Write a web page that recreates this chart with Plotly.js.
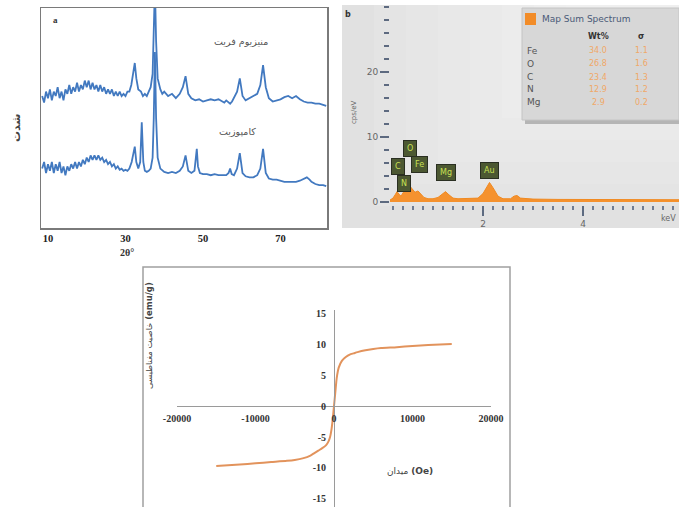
<!DOCTYPE html>
<html><head><meta charset="utf-8">
<script src="https://cdn.plot.ly/plotly-3.0.1.min.js"></script>
<style>html,body{margin:0;padding:0;background:#fff}#chart{width:679px;height:507px}</style>
</head><body><div id="chart"></div>
<script>
// ---------- Panel a: XRD ----------
const ferriteX = [8.5,9,9.5,10,10.5,11,11.5,12,12.5,13,13.5,14,14.5,15,15.5,16,16.5,17,17.5,18,18.5,19,19.5,20,20.5,21,21.5,22,22.5,23,23.5,24,24.5,25,25.5,26,26.5,27,27.5,28,28.5,29,29.5,30,30.5,31,31.5,32,32.4,32.8,33.3,34,34.5,35,35.5,36,36.5,37,37.3,37.6,37.9,38.3,39,39.5,40,41,42,43,44,44.8,45.5,46.2,47,48,49,50,51,52,53,54,55,55.5,56,57,57.5,58,58.8,59.5,60.2,61,62,63,64,64.8,65.5,66.2,67,68,69,70,71,72,73,74,75,76,77,78,79,80,81,81.8];
const ferriteY = [60,57,62,59,63,58,62,60,64,59,62,58,63,61,65,61,64,62,66,62,65,63,67,64,67,63,66,63,65,62,65,62,64,61,63,61,63,60,62,60,62,60,61,60,62,62,65,70,75,68,63,62,60,61,60,62,64,70,85,110,85,68,63,61,62,60,61,59,61,64,69,61,59,58,58.5,57.5,58,58.5,58,58.5,57.5,57,58,56.5,57.5,59,62,68,60,58,59,60,61,65,74,64,59,57.5,58,58.5,59.5,60,59,60,58.5,57.5,57,57,56.5,56.5,56,55.5];
const compositeX = [8.5,9,9.5,10,10.5,11,11.5,12,12.5,13,13.5,14,14.5,15,15.5,16,16.5,17,17.5,18,18.5,19,19.5,20,20.5,21,21.5,22,22.5,23,23.5,24,24.5,25,25.5,26,26.5,27,27.5,28,28.5,29,29.5,30,30.5,31,31.6,32.1,32.4,32.8,33.3,33.8,34.2,34.6,35,35.5,36,36.5,37,37.3,37.6,37.9,38.3,39,39.5,40,41,42,43,44,44.8,45.5,46.2,47,47.8,48.1,48.4,48.7,49.2,50,51,52,53,54,55,56,56.6,57,57.4,58,58.8,59.5,60.2,61,62,63,64,64.8,65.5,66.2,67,68,69,70,71,72,73,74,75,76,76.8,77.5,78,79,80,81,81.8];
const compositeY = [27,30,25,29,26,30,25,29,26,30,25,28,24,28,26,29,27,30,27,30,28,31,29,32,30,33,31,33,31,33,31,32,30,31,29,30,28,29,27,28,26.5,27,26,26.5,26,27,30,34,37,30,27,30,48,30,26,25.5,26,27,32,50,80,50,32,27,26,25.5,25,25.5,25,26,28,33,26,25,26,30,36,28,25,24.5,24.5,24,24.5,24,24,24,25,27,24.5,24,27,34,25,23.5,23,23,24,27,36,25,22.5,22,22,21.5,21,21,21,21,21.5,22.5,23,22,21,20,19.5,19.5,19];
const xrdTicks = [10,30,50,70];

// ---------- Panel b: EDS ----------
const energyKeV = [0.14,0.2,0.25,0.28,0.32,0.36,0.4,0.45,0.52,0.58,0.64,0.7,0.76,0.82,0.9,1.0,1.1,1.18,1.25,1.32,1.4,1.5,1.7,1.9,2.0,2.08,2.13,2.2,2.3,2.4,2.55,2.62,2.68,2.75,2.85,3.0,3.5,4.0,4.5,5.0,5.5,5.92];
const countsCps = [0.3,0.6,1.2,1.6,1.2,0.9,1.4,2.0,2.6,2.0,1.5,1.7,1.2,0.7,0.5,0.5,0.7,1.2,1.6,1.1,0.6,0.5,0.5,0.6,1.3,2.4,3.0,2.2,0.9,0.5,0.5,0.9,1.0,0.6,0.5,0.45,0.4,0.4,0.4,0.35,0.35,0.35];
const peakLabels = ['C','O','Fe','N','Mg','Au'];
const peakLabelX = [0.30,0.54,0.74,0.42,1.26,2.14];
const peakLabelY = [5.5,8.2,5.7,2.8,4.5,4.8];
const tableElements = ['Fe','O','C','N','Mg'];
const tableWt = ['34.0','26.8','23.4','12.9','2.9'];
const tableSigma = ['1.1','1.6','1.3','1.2','0.2'];

// ---------- Panel c: VSM ----------
const fieldOe = [-15000,-12000,-10000,-8000,-6000,-5000,-4000,-3000,-2500,-2000,-1500,-1000,-700,-500,-300,-150,0,150,300,400,600,1000,1500,2000,2500,3000,4000,5000,6000,8000,10000,12000,15000];
const magnetization = [-9.7,-9.45,-9.25,-9.05,-8.85,-8.7,-8.45,-8.0,-7.6,-7.2,-6.8,-6.3,-5.7,-5.0,-3.6,-2.0,0,2.0,4.0,5.0,6.2,7.3,7.9,8.3,8.5,8.7,9.0,9.2,9.35,9.5,9.7,9.85,10.0];
const vsmTicksX = [-20000,-10000,0,10000,20000];
const vsmTicksY = [-15,-10,-5,0,5,10,15];

const W = 679, H = 507;
const px = v => v / W, py = v => 1 - v / H;
const serifBold = {family:'Liberation Serif', size:11, color:'#222', weight:'bold'};
const fa = 'DejaVu Sans';

function ann(text, x, y, font, extra) {
  return Object.assign({text, xref:'paper', yref:'paper', x:px(x), y:py(y), showarrow:false,
    xanchor:'center', yanchor:'middle', font}, extra || {});
}

const traces = [
  {x: ferriteX, y: ferriteY, xaxis:'x', yaxis:'y', type:'scatter', mode:'lines',
   line:{color:'#4279c0', width:1.8}, hoverinfo:'skip'},
  {x: compositeX, y: compositeY, xaxis:'x', yaxis:'y', type:'scatter', mode:'lines',
   line:{color:'#4279c0', width:1.8}, hoverinfo:'skip'},
  {x: energyKeV, y: countsCps, xaxis:'x2', yaxis:'y2', type:'scatter', mode:'lines',
   fill:'tozeroy', fillcolor:'#f5922f', line:{color:'#f08a22', width:1}, hoverinfo:'skip'},
  {x: fieldOe, y: magnetization, xaxis:'x3', yaxis:'y3', type:'scatter', mode:'lines',
   line:{color:'#e2935c', width:2, shape:'spline', smoothing:0.6}, hoverinfo:'skip'}
];

const annotations = [
  ann('<b>a</b>', 55, 20, {family:'Liberation Serif', size:9, color:'#333'}),
  ann('منیزیوم فریت', 241, 42, {family:fa, size:9.5, color:'#555'}),
  ann('کامپوزیت', 237, 131, {family:fa, size:9.5, color:'#555'}),
  ann('<b>شدت</b>', 17, 128, {family:fa, size:11, color:'#444'}, {textangle:-90}),
  ann('<b>2θ°</b>', 127, 252, {family:'Liberation Serif', size:10, color:'#333'}),
  ann('<b>b</b>', 348, 14, {family:'DejaVu Sans', size:8, color:'#333'}),
  ann('cps/eV', 354, 112, {family:'DejaVu Sans', size:7, color:'#666'}, {textangle:-90}),
  ann('keV', 678, 218, {family:'DejaVu Sans', size:8, color:'#666'}, {xanchor:'right'}),
  ann('Map Sum Spectrum', 540, 19, {family:'DejaVu Sans', size:9, color:'#4a5a78'}, {xanchor:'left'}),
  ann('<b>Wt%</b>', 598, 36, {family:'DejaVu Sans', size:8, color:'#333'}),
  ann('<b>σ</b>', 641, 36, {family:'DejaVu Sans', size:8, color:'#333'}),
  ann('میدان <b>(Oe)</b>', 410, 471, {family:fa, size:9, color:'#444'}),
  ann('خاصیت مغناطیسی <b>(emu/g)</b>', 149, 336, {family:fa, size:8.5, color:'#444'}, {textangle:-90})
];
const rowY = [51, 64, 77, 89, 102];
tableElements.forEach((el, i) => {
  annotations.push(ann(el, 525, rowY[i], {family:'DejaVu Sans', size:9, color:'#555'}, {xanchor:'left'}));
  annotations.push(ann(tableWt[i], 598, rowY[i], {family:'DejaVu Sans', size:8, color:'#f0a868'}));
  annotations.push(ann(tableSigma[i], 641, rowY[i], {family:'DejaVu Sans', size:8, color:'#f0a868'}));
});
peakLabels.forEach((lb, i) => {
  annotations.push({text: lb, xref:'x2', yref:'y2', x: peakLabelX[i], y: peakLabelY[i], showarrow:false,
    bgcolor:'#4c5832', bordercolor:'#2a2f22', borderwidth:1, borderpad:3,
    font:{family:'DejaVu Sans', size:8, color:'#c9e052'}});
});

const shapes = [
  {type:'rect', xref:'paper', yref:'paper', x0:px(342), x1:1, y0:py(228), y1:py(5), fillcolor:'#dedede', line:{width:0}, layer:'below'}
];
for (let i = 0; i < 8; i++) {
  shapes.push({type:'rect', xref:'paper', yref:'paper', x0:px(342 + i * 32), x1:1, y0:py(228 - i * 22), y1:py(5),
    fillcolor:'#ffffff', opacity:0.1, line:{width:0}, layer:'below'});
}
shapes.push(
  {type:'rect', xref:'paper', yref:'paper', x0:px(525), x1:1, y0:py(124), y1:py(11), fillcolor:'#b5b5b5', line:{width:0}, layer:'below'},
  {type:'rect', xref:'paper', yref:'paper', x0:px(522), x1:1, y0:py(120), y1:py(8), fillcolor:'#d7d7d7', line:{color:'#c4c4c4', width:1}, layer:'below'},
  {type:'rect', xref:'paper', yref:'paper', x0:px(525), x1:px(536), y0:py(25), y1:py(13), fillcolor:'#f28c28', line:{width:0}},
  {type:'rect', xref:'paper', yref:'paper', x0:px(143), x1:px(510), y0:py(510), y1:py(267), line:{color:'#a0a0a0', width:1.5}, layer:'below'}
);

const layout = {
  width: W, height: H, margin:{l:0, r:0, t:0, b:0}, showlegend:false,
  paper_bgcolor:'#fff', plot_bgcolor:'rgba(0,0,0,0)',
  xaxis:{domain:[px(41), px(327)], range:[8.2, 82], anchor:'y', tickvals:xrdTicks, ticktext:xrdTicks.map(String),
    showline:true, mirror:true, linecolor:'#7a7a7a', linewidth:1.5, ticks:'', showgrid:false, zeroline:false,
    tickfont:{family:'Liberation Serif', size:10.5, color:'#222', weight:'bold'}, ticklabelstandoff:0},
  yaxis:{domain:[py(228), py(8)], range:[0, 100], anchor:'x', showticklabels:false,
    showline:true, mirror:true, linecolor:'#7a7a7a', linewidth:1.5, ticks:'', showgrid:false, zeroline:false},
  xaxis2:{domain:[px(390), 1], range:[0.14, 5.92], anchor:'y2', tickvals:[2,4], ticktext:['2','4'],
    ticks:'outside', ticklen:10, tickcolor:'#5d6a80', tickwidth:1.2,
    minor:{dtick:0.2, tick0:0, ticks:'outside', ticklen:4, tickcolor:'#6f7c94', tickwidth:1.2},
    showline:false, showgrid:false, zeroline:false, tickfont:{family:'DejaVu Sans', size:9, color:'#666'}},
  yaxis2:{domain:[py(205), py(5)], range:[-0.46, 30.3], anchor:'x2', tickvals:[0,10,20], ticktext:['0','10','20'],
    ticks:'outside', ticklen:9, tickcolor:'#5d6a80', tickwidth:1.2,
    minor:{dtick:2, tick0:0, ticks:'outside', ticklen:5, tickcolor:'#5d6a80', tickwidth:1.2},
    showline:false, showgrid:false, zeroline:false, tickfont:{family:'DejaVu Sans', size:9, color:'#666'}},
  xaxis3:{domain:[px(177), px(491)], range:[-20000, 20000], anchor:'free', position:(507-406)/507,
    tickvals:vsmTicksX, ticktext:vsmTicksX.map(String), showline:true, linecolor:'#9a9a9a', linewidth:1,
    ticks:'', showgrid:false, zeroline:false, tickfont:{family:'Liberation Serif', size:10, color:'#333', weight:'bold'},
    ticklabelstandoff:3},
  yaxis3:{domain:[0, py(310)], range:[-16.3, 15.5], anchor:'free', position:px(334),
    tickvals:vsmTicksY, ticktext:vsmTicksY.map(String), showline:true, linecolor:'#9a9a9a', linewidth:1,
    ticks:'', showgrid:false, zeroline:false, tickfont:{family:'Liberation Serif', size:10, color:'#333', weight:'bold'},
    ticklabelstandoff:6},
  annotations, shapes
};

Plotly.newPlot('chart', traces, layout, {staticPlot:true, displayModeBar:false});
</script>
</body></html>
